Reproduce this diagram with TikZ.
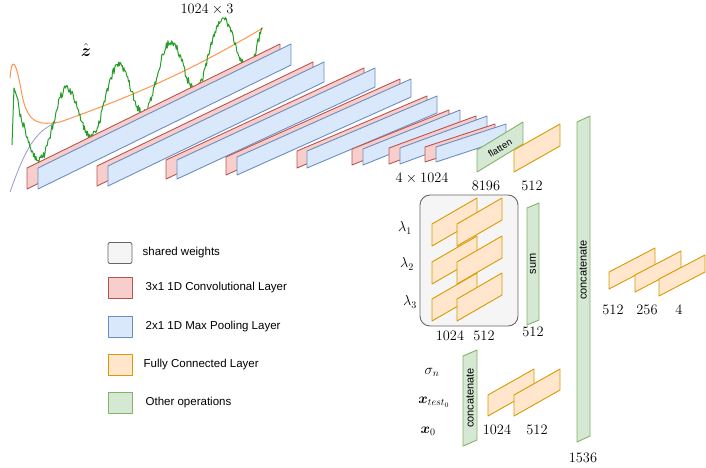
\documentclass[tikz,border=0pt]{standalone}
\usepackage{amsmath}
\usepackage{fontspec}
\newfontfamily\lsans{Liberation Sans}
\usepackage{tikz}
\usetikzlibrary{positioning}

\definecolor{convfill}{HTML}{F8CECC}\definecolor{convline}{HTML}{B85450}
\definecolor{poolfill}{HTML}{DAE8FC}\definecolor{poolline}{HTML}{6C8EBF}
\definecolor{fcfill}{HTML}{FFE6CC}\definecolor{fcline}{HTML}{D79B00}
\definecolor{opfill}{HTML}{D5E8D4}\definecolor{opline}{HTML}{82B366}
\definecolor{sharedfill}{HTML}{F5F5F5}\definecolor{sharedline}{HTML}{666666}

% slanted layer: bottom-left corner, width, height, rise
\newcommand{\layer}[6]{\draw[#1] (#2,#3) -- ++(0,-#5) -- ++(#4,-#6) -- ++(0,#5) -- cycle;}

\begin{document}
\begin{tikzpicture}[x=1pt, y=-1pt, line join=round]
        \tikzstyle{conv} = [fill=convfill, draw=convline, line width=0.9pt];
        \tikzstyle{pool} = [fill=poolfill, draw=poolline, line width=0.9pt];
        \tikzstyle{fc} = [fill=fcfill, draw=fcline, line width=0.9pt];
        \tikzstyle{op} = [fill=opfill, draw=opline, line width=0.9pt];
        \tikzstyle{dim} = [inner sep=0pt, font=\fontsize{14.5}{16}\selectfont];
        \tikzstyle{oplabel} = [inner sep=0pt, font=\lsans\fontsize{11}{12}\selectfont];
        \tikzstyle{legtext} = [anchor=west, inner sep=0pt, font=\lsans\fontsize{11.5}{13}\selectfont];
        \tikzstyle{legbox} = [minimum width=24pt, minimum height=21pt, rounded corners=2pt, line width=0.9pt, inner sep=0pt];
        \useasboundingbox (0,0) rectangle (706,467);

        % input signals
        \draw[color=blue!35!gray!60, line width=0.8pt] (10,192) .. controls (25,150) and (35,130) .. (58,122);
        \draw[color=orange!80!red!70, line width=1pt] (10,78) .. controls (12,55) and (16,60) .. (22,95) .. controls (28,125) and (40,125) .. (60,122)
            .. controls (150,90) and (200,65) .. (263,28);
        \draw[color=green!55!black, line width=1pt, opacity=0.85] (12,145) -- (14,88) -- (18,100)
            -- plot[domain=20:262, samples=320] (\x,{124-(\x-53)*0.45+30*cos(6.923*(\x-40))+4*rand});

        \node[inner sep=0pt, font=\fontsize{18}{20}\selectfont] (zhat) at (86,50) {$\hat{\boldsymbol z}$};
        \node[dim] (dimin) at (207,9) {$1024\times 3$};

        % convolution and pooling blocks
        \layer{conv}{27}{189}{253}{21}{124}
        \layer{pool}{38}{189}{253}{21}{124}
        \layer{conv}{97}{186}{216}{20}{104}
        \layer{pool}{108}{186}{216}{20}{104}
        \layer{conv}{166}{179}{198}{19}{92}
        \layer{pool}{177}{179}{198}{19}{92}
        \layer{conv}{226}{175}{174}{18}{78}
        \layer{pool}{237}{175}{174}{18}{78}
        \layer{conv}{297}{168}{130}{17}{55}
        \layer{pool}{307}{168}{130}{17}{55}
        \layer{conv}{352}{165}{97}{16}{39}
        \layer{pool}{363}{165}{97}{16}{39}
        \layer{conv}{389}{164}{87}{16}{32}
        \layer{pool}{400}{164}{87}{16}{32}
        \layer{conv}{425}{162}{70}{15}{23}
        \layer{pool}{436}{162}{70}{15}{23}
        \node[dim] (dimconv) at (422,178) {$4\times 1024$};

        % flatten and first dense layer
        \layer{op}{477}{172}{46}{22}{28}
        \node[oplabel, rotate=31, font=\lsans\fontsize{9.5}{11}\selectfont] (flat) at (500,148) {flatten};
        \layer{fc}{514}{172}{46}{22}{26}
        \node[dim] (dimflat) at (486,186) {$8196$};
        \node[dim] (dimfc) at (532,186) {$512$};

        % shared weights
        \draw[fill=sharedfill, draw=sharedline, line width=0.9pt, rounded corners=10pt] (420,195) rectangle (518,326);
        \foreach \y in {246, 284, 321} {
            \layer{fc}{432}{\y}{45}{22}{26}
            \layer{fc}{457}{\y}{45}{22}{26}
        }
        \node[dim] (lam1) at (405,228) {$\lambda_1$};
        \node[dim] (lam2) at (407,264) {$\lambda_2$};
        \node[dim] (lam3) at (410,302) {$\lambda_3$};
        \node[dim] (dimsh1) at (450,336) {$1024$};
        \node[dim] (dimsh2) at (484,336) {$512$};

        \layer{op}{527}{325}{12}{117}{5}
        \node[oplabel, rotate=90] (sum) at (533,264) {sum};
        \node[dim] (dimsum) at (533,332) {$512$};

        % inputs
        \layer{op}{463}{446}{14}{90}{6}
        \node[oplabel, rotate=90] (cat1) at (470,398) {concatenate};
        \node[dim] (sig) at (432,372) {$\sigma_n$};
        \node[dim] (xt) at (434,402) {$\boldsymbol{x}_{test_0}$};
        \node[dim] (x0) at (428,431) {$\boldsymbol{x}_0$};
        \layer{fc}{488}{416}{46}{21}{26}
        \layer{fc}{514}{416}{46}{21}{26}
        \node[dim] (diminp1) at (497,430) {$1024$};
        \node[dim] (diminp2) at (537,430) {$512$};

        % final concatenate and head
        \layer{op}{577}{442}{13}{320}{6}
        \node[oplabel, rotate=90] (cat2) at (583,270) {concatenate};
        \node[dim] (dimcat) at (583,458) {$1536$};
        \layer{fc}{609}{289}{46}{17}{24}
        \layer{fc}{635}{292}{46}{17}{24}
        \layer{fc}{659}{296}{46}{17}{24}
        \node[dim] (dimh1) at (613,310) {$512$};
        \node[dim] (dimh2) at (647,310) {$256$};
        \node[dim] (dimh3) at (679,310) {$4$};

        % legend
        \node[legbox, fill=sharedfill, draw=sharedline] (kshared) at (120,253) {};
        \node[legbox, rounded corners=0pt, fill=convfill, draw=convline] (kconv) at (120,288) {};
        \node[legbox, rounded corners=0pt, fill=poolfill, draw=poolline] (kpool) at (120,327) {};
        \node[legbox, rounded corners=0pt, fill=fcfill, draw=fcline] (kfc) at (120,365) {};
        \node[legbox, rounded corners=0pt, fill=opfill, draw=opline] (kop) at (120,403) {};
        \node[legtext, right=10pt of kshared] {shared weights};
        \node[legtext, right=13pt of kconv] {3x1 1D Convolutional Layer};
        \node[legtext, right=13pt of kpool] {2x1 1D Max Pooling Layer};
        \node[legtext, right=11pt of kfc] {Fully Connected Layer};
        \node[legtext, right=13pt of kop] {Other operations};
\end{tikzpicture}
\end{document}
